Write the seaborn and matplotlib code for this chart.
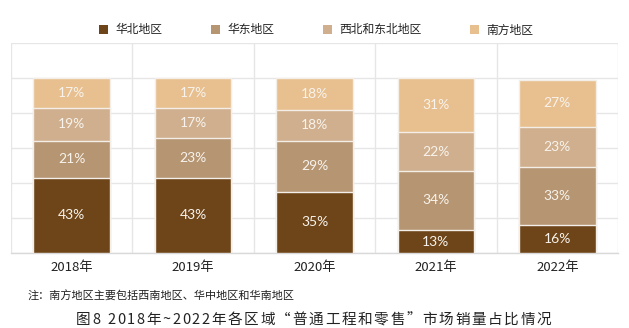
import numpy as np
import pandas as pd
import seaborn as sns
import matplotlib.pyplot as plt
from matplotlib.patches import Patch

# 各区域"普通工程和零售"市场销量占比（%）
years = ["2018年", "2019年", "2020年", "2021年", "2022年"]
regions = ["华北地区", "华东地区", "西北和东北地区", "南方地区"]
north = [43, 43, 35, 13, 16]
east = [21, 23, 29, 34, 33]
northwest_northeast = [19, 17, 18, 22, 23]
south = [17, 17, 18, 31, 27]
colors = ["#6E4519", "#B59572", "#CFAF8E", "#E8BF8F"]

note = "注：南方地区主要包括西南地区、华中地区和华南地区"
caption = "图8 2018年~2022年各区域“普通工程和零售”市场销量占比情况"

sns.set_theme(style="white")
plt.rcParams["font.family"] = ["Noto Sans CJK SC", "DejaVu Sans"]

series = [north, east, northwest_northeast, south]
frames = []
for name, vals in zip(regions, series):
    frames.append(pd.DataFrame({"year": years, "region": name, "share": np.array(vals) / 100}))
df = pd.concat(frames, ignore_index=True)
wide = df.pivot(index="year", columns="region", values="share")[regions]
cum = wide.cumsum(axis=1)

fig = plt.figure(figsize=(6.29, 3.28), dpi=100)
W, H = 629, 328
ax = fig.add_axes([11 / W, (H - 253) / H, (618 - 11) / W, (253 - 43) / H])

# stacked bars: draw cumulative totals from the top segment downwards
for name, col in zip(regions[::-1], colors[::-1]):
    sns.barplot(x=cum.index, y=cum[name].values, order=years, color=col,
                width=0.63, edgecolor="#F3EEE8", linewidth=1.0, ax=ax,
                saturation=1, zorder=3)

ax.set_ylim(0, 1.2)
ax.set_xlim(-0.5, 4.5)
ax.set_yticks(np.arange(0, 1.21, 0.2))
ax.set_xticks(np.arange(-0.5, 4.51, 0.5), minor=True)
ax.grid(True, which="major", axis="y", color="#E6E6E6", linewidth=1.0, zorder=0)
ax.grid(True, which="minor", axis="x", color="#E6E6E6", linewidth=1.0, zorder=0)
ax.tick_params(axis="y", left=False, labelleft=False)
ax.tick_params(axis="x", which="both", bottom=False, length=0, pad=6,
               labelsize=9.5, labelcolor="#222222")
ax.set_xticks(range(len(years)))
ax.set_xticklabels(years)
ax.set_xlabel("")
ax.set_ylabel("")
for s in ["top", "right", "left"]:
    ax.spines[s].set_visible(False)
ax.spines["bottom"].set_color("#D9D9D9")
ax.spines["bottom"].set_linewidth(1.0)

# percentage labels at segment centres
for i, y in enumerate(years):
    base = 0.0
    for name in regions:
        v = wide.loc[y, name]
        ax.text(i, base + v / 2, f"{round(v * 100):d}%", ha="center", va="center",
                color="#F8F3EC", fontsize=10, family=["Lato", "DejaVu Sans"], zorder=5)
        base += v

handles = [Patch(facecolor=c, edgecolor="none") for c in colors]
fig.legend(handles, regions, loc="center", bbox_to_anchor=(316 / W, 1 - 30 / H),
           ncol=4, frameon=False, fontsize=8.5, handlelength=0.8, handleheight=0.8,
           handletextpad=0.6, columnspacing=4.1, labelcolor="#222222")

fig.text(28 / W, 1 - 296 / H, note, fontsize=8, color="#222222", va="center", ha="left")


def spaced_text(fig, text, x0, x1, y, **kw):
    """Draw text with even tracking so that it spans from x0 to x1 (pixels)."""
    renderer = fig.canvas.get_renderer()
    widths = []
    for ch in text:
        t = fig.text(0, 0, ch, **kw)
        widths.append(t.get_window_extent(renderer).width if ch.strip() else kw.get("fontsize", 10) * 0.35)
        t.remove()
    gap = (x1 - x0 - sum(widths)) / (len(text) - 1)
    x = x0
    for ch, w in zip(text, widths):
        fig.text(x / W, 1 - y / H, ch, va="center", ha="left", **kw)
        x += w + gap


spaced_text(fig, caption, 76, 551, 320, fontsize=10.5, color="#222222")

fig.savefig("out.png", dpi=100, facecolor="white")
